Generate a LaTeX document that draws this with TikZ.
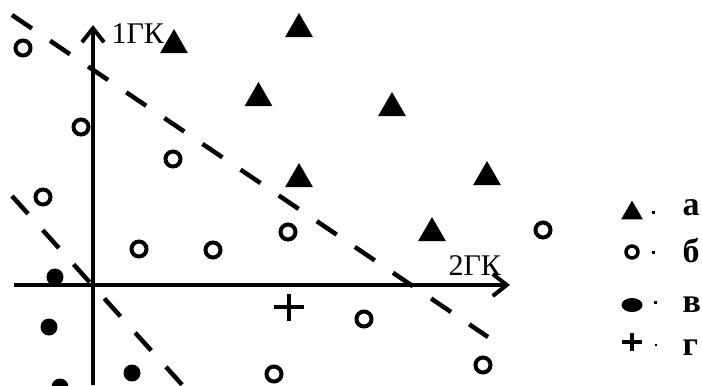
\documentclass[tikz,border=0pt]{standalone}
\usepackage{fontspec}
\setmainfont{Liberation Serif}
\usetikzlibrary{arrows.meta,shapes.geometric}
\newcommand{\mtri}[3]{\node[tri] (#1) at (#2,#3) {};}
\newcommand{\mopen}[3]{\node[opn] (#1) at (#2,#3) {};}
\newcommand{\mfull}[3]{\node[fld] (#1) at (#2,#3) {};}

\begin{document}
\begin{tikzpicture}[x=1bp,y=-1bp,
    tri/.style={regular polygon,regular polygon sides=3,fill,inner sep=0,minimum size=32bp},
    opn/.style={circle,draw,line width=4bp,inner sep=0,minimum size=15bp},
    fld/.style={circle,fill,inner sep=0,minimum size=17bp},
    sq/.style={fill,inner sep=0,minimum size=3bp},
    axis/.style={line width=4bp,-{Straight Barb[length=14bp,width=22bp]}},
    sep/.style={line width=4.5bp,dash pattern=on 24bp off 22bp},
    lbl/.style={anchor=base west,font=\fontsize{30bp}{30bp}\selectfont},
    key/.style={anchor=base west,font=\fontsize{34bp}{34bp}\selectfont\bfseries}]
  \useasboundingbox (0,0) rectangle (702,385);
  % axes
  \coordinate (ybot) at (93,385);
  \coordinate (ytop) at (93,25);
  \coordinate (xlft) at (14,285);
  \coordinate (xrgt) at (510,285);
  \draw[axis] (ybot) -- (ytop);
  \draw[axis] (xlft) -- (xrgt);
  \node[lbl] (gk1) at (108,43) {1ГК};
  \node[lbl] (gk2) at (445,275) {2ГК};
  % separating lines
  \coordinate (s1a) at (12,15);
  \coordinate (s1b) at (488,337);
  \coordinate (s2a) at (12,196);
  \coordinate (s2b) at (185,388);
  \draw[sep] (s1a) -- (s1b);
  \draw[sep] (s2a) -- (s2b);
  % a
  \mtri{a1}{174}{45}
  \mtri{a2}{299}{29}
  \mtri{a3}{258.5}{98}
  \mtri{a4}{392}{108}
  \mtri{a5}{299}{179}
  \mtri{a6}{487}{177}
  \mtri{a7}{432}{233}
  % b
  \mopen{b1}{23}{48}
  \mopen{b2}{81}{127}
  \mopen{b3}{173}{159}
  \mopen{b4}{43}{197}
  \mopen{b5}{139}{249}
  \mopen{b6}{213}{250}
  \mopen{b7}{288}{232}
  \mopen{b8}{543}{230}
  \mopen{b9}{364}{319}
  \mopen{b10}{274}{374}
  \mopen{b11}{483}{365}
  % v
  \mfull{v1}{55}{277}
  \mfull{v2}{49}{327}
  \mfull{v3}{132}{373}
  \mfull{v4}{60}{387}
  % g
  \draw[line width=4bp] (274,307) -- (304,307) (289,294) -- (289,321);
  % legend
  \node[tri,minimum size=25bp] (ka) at (632,213) {};
  \node[opn,line width=3.5bp,minimum size=12bp] (kb) at (632,252) {};
  \node[ellipse,fill,inner sep=0,minimum width=21bp,minimum height=14bp] (kv) at (632,305) {};
  \node[inner sep=0,minimum width=20bp,minimum height=17bp] (kg) at (632,342) {};
  \draw[line width=3.5bp] (kg.west) -- (kg.east) (kg.north) -- (kg.south);
  \node[sq] (da) at (653,212) {};
  \node[sq] (db) at (653,252) {};
  \node[sq] (dv) at (655,302) {};
  \node[sq,minimum size=2bp] (dg) at (656,345) {};
  \node[key] (ta) at (679,215) {а};
  \node[key] (tb) at (679,262) {б};
  \node[key] (tv) at (679,312) {в};
  \node[key] (tg) at (679,355) {г};
\end{tikzpicture}
\end{document}
